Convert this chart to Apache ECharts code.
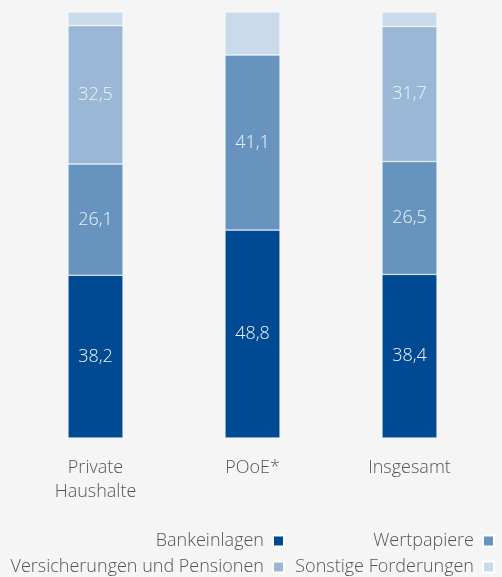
<!DOCTYPE html>
<html>
<head>
<meta charset="utf-8">
<script src="https://cdn.jsdelivr.net/npm/echarts@6/dist/echarts.min.js"></script>
<style>
  html, body { margin: 0; padding: 0; background: #f5f5f5; }
  #chart { width: 502px; height: 577px; }
</style>
</head>
<body>
<div id="chart"></div>
<script>
// Kategorien und Anteile in %
var kategorien = ['Private\nHaushalte', 'POoE*', 'Insgesamt'];
var bankeinlagen = [38.2, 48.8, 38.4];
var wertpapiere = [26.1, 41.1, 26.5];
var versicherungen = [32.5, null, 31.7];
var sonstige = [3.2, 10.1, 3.4];

var farben = ['#004a93', '#6694bf', '#9ab7d5', '#c9dbeb'];
var schrift = '"Open Sans", "Noto Sans", sans-serif';

var chart = echarts.init(document.getElementById('chart'));

function serie(name, data, color, showLabel) {
  return {
    name: name,
    type: 'bar',
    stack: 'gesamt',
    barWidth: 55,
    data: data,
    itemStyle: { color: color, borderColor: '#ffffff', borderWidth: 0.5 },
    label: {
      show: showLabel,
      position: 'inside',
      color: '#eef3f8',
      fontSize: 18,
      fontWeight: 300,
      fontFamily: schrift,
      formatter: function (p) {
        return p.value == null ? '' : p.value.toFixed(1).replace('.', ',');
      }
    }
  };
}

// ein Legendeneintrag pro Komponente, damit die Position fest ist
function legende(name, right, top) {
  return {
    right: right, top: top, align: 'right', padding: 0,
    itemWidth: 11, itemHeight: 11, itemGap: 0,
    icon: 'rect',
    textStyle: {
      color: '#555555', fontSize: 18, fontWeight: 300, fontFamily: schrift,
      padding: [0, 4, 0, 0]
    },
    data: [name]
  };
}

var option = {
  backgroundColor: '#f5f5f5',
  animation: false,
  grid: { left: 17, right: 14, top: 12, bottom: 139 },
  legend: [
    legende('Bankeinlagen', 217, 532),
    legende('Wertpapiere', 7, 532),
    legende('Versicherungen und Pensionen', 217, 558),
    legende('Sonstige Forderungen', 7, 558)
  ],
  xAxis: {
    type: 'category',
    data: kategorien,
    axisLine: { show: false },
    axisTick: { show: false },
    axisLabel: {
      color: '#555555', fontSize: 18, fontWeight: 300, fontFamily: schrift,
      lineHeight: 24, margin: 18
    }
  },
  yAxis: {
    type: 'value', min: 0, max: 100, show: false,
    splitLine: { show: false }
  },
  series: [
    serie('Bankeinlagen', bankeinlagen, farben[0], true),
    serie('Wertpapiere', wertpapiere, farben[1], true),
    serie('Versicherungen und Pensionen', versicherungen, farben[2], true),
    serie('Sonstige Forderungen', sonstige, farben[3], false)
  ]
};

chart.setOption(option);
</script>
</body>
</html>
